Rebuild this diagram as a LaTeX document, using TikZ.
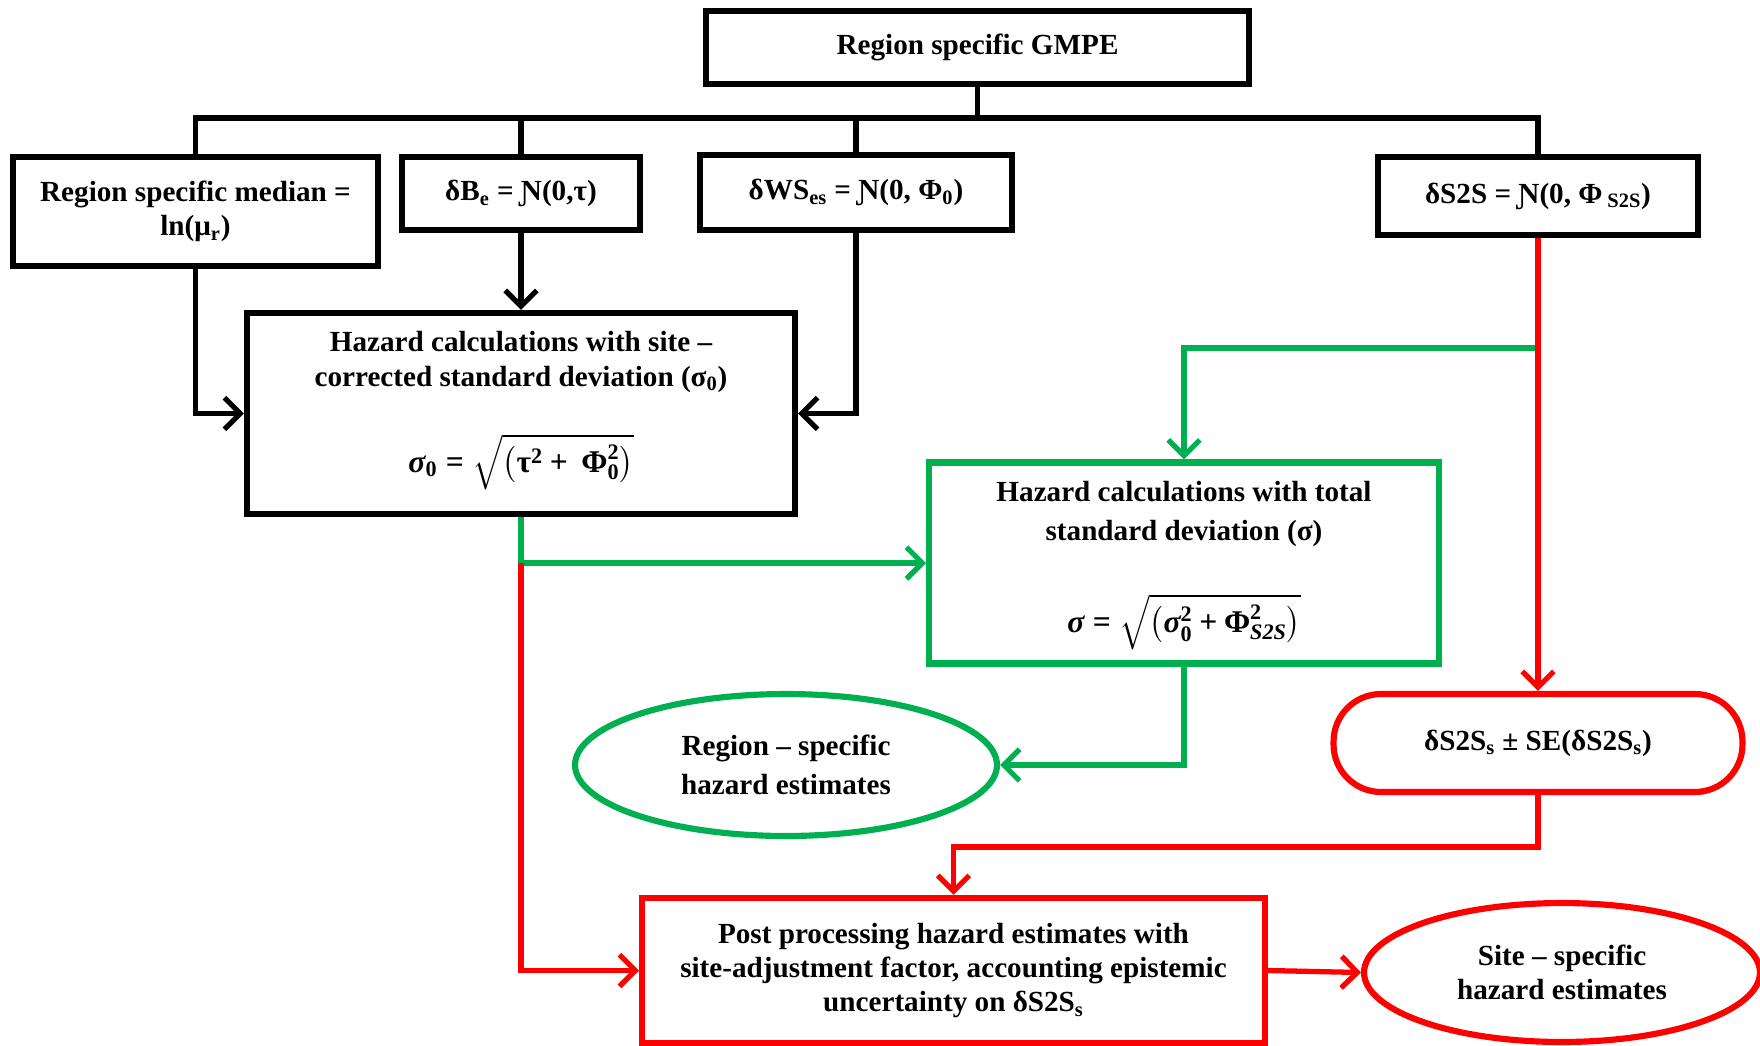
\documentclass[tikz,border=0pt]{standalone}
\usepackage{amsmath}
\usepackage{fontspec}
\setmainfont{Liberation Serif}
\usetikzlibrary{arrows.meta,positioning,shapes.geometric}
\definecolor{hzgreen}{RGB}{0,176,80}
\definecolor{hzred}{RGB}{255,0,0}

\begin{document}
\begin{tikzpicture}[
  x=0.02cm,y=-0.02cm,
  >={Straight Barb[length=9pt,width=18pt]},
  font=\fontsize{16.6}{19.5}\selectfont\bfseries,
  box/.style={draw,line width=3.5pt,align=center,inner sep=2pt},
  calcbox/.style={box,minimum height=4.02cm},
  boxtext/.style={align=center,inner sep=0pt},
  estim/.style={ellipse,draw,line width=3.5pt,align=center,inner sep=0pt},
  pill/.style={draw,line width=3.5pt,rounded corners=0.95cm,align=center,
    minimum width=8.18cm,minimum height=1.96cm},
  eqn/.style={inner sep=0pt,font=\fontsize{18}{21}\selectfont\bfseries},
  link/.style={line width=3pt}
]
  \useasboundingbox (0,0) rectangle (1760,1045);

  \node[box,minimum width=10.86cm,minimum height=1.46cm] (gmpe) at (977.5,47.5)
    {Region specific GMPE};
  \node[box,minimum width=7.3cm,minimum height=2.18cm] (median) at (195.5,211.5)
    {Region specific median =\\ln(μ\textsubscript{r})};
  \node[box,minimum width=4.76cm,minimum height=1.46cm] (dbe) at (521,193.5)
    {δB\textsubscript{e} = Ɲ(0,τ)};
  \node[box,minimum width=6.24cm,minimum height=1.5cm] (dws) at (856,192.5)
    {δWS\textsubscript{es} = Ɲ(0, Φ\textsubscript{0})};
  \node[box,minimum width=6.4cm,minimum height=1.56cm] (s2s) at (1538,196)
    {δS2S = Ɲ(0, Φ\,\textsubscript{S2S})};

  \node[calcbox,minimum width=10.96cm] (hazsite) at (521,413.5) {};
  \node[boxtext] (hazsitetxt) at (521,362) {Hazard calculations with site –\\corrected standard deviation (σ\textsubscript{0})};
  \node[eqn] (hazsiteeq) at (521,462)
    {$\text{\itshape σ}_{\text{0}} \mathrel{\text{=}} \sqrt{\left(\text{τ}^{\text{2}} \mathbin{\text{+}} \mkern4mu\text{Φ}^{\text{2}}_{\text{0}}\right)}$};

  \node[calcbox,draw=hzgreen,minimum width=10.2cm] (haztot) at (1184,563) {};
  \node[boxtext,font=\fontsize{16.6}{22}\selectfont\bfseries] (haztottxt) at (1184,514)
    {Hazard calculations with total\\standard deviation (σ)};
  \node[eqn] (haztoteq) at (1184,622)
    {$\text{\itshape σ} \mathrel{\text{=}} \sqrt{\left(\text{\itshape σ}^{\text{2}}_{\text{0}} \mathbin{\text{+}} \text{Φ}^{\text{2}}_{\text{\itshape S2S}}\right)}$};

  \node[estim,draw=hzgreen,minimum width=8.44cm,minimum height=2.84cm,
    font=\fontsize{16.6}{22}\selectfont\bfseries] (regest) at (786,765)
    {Region – specific\\hazard estimates};
  \node[pill,draw=hzred] (s2ss) at (1538,743)
    {δS2S\textsubscript{s} ± SE(δS2S\textsubscript{s})};
  \node[box,draw=hzred,minimum width=12.46cm,minimum height=2.9cm] (post) at (953.5,970.5)
    {Post processing hazard estimates with\\site-adjustment factor, accounting epistemic\\uncertainty on δS2S\textsubscript{s}};
  \node[estim,draw=hzred,minimum width=7.92cm,minimum height=2.78cm] (siteest) at (1562,972.5)
    {Site – specific\\hazard estimates};

  \coordinate (bus) at (977.5,118);
  \coordinate (j1) at (hazsite.south |- haztot.west);
  \coordinate (j2) at (1538,348);

  \draw[link] (gmpe.south) -- (bus);
  \draw[link] (median.north) |- (bus) -| (s2s.north);
  \draw[link] (dbe.north) -- (dbe.north |- bus);
  \draw[link] (dws.north) -- (dws.north |- bus);
  \draw[link,->] (median.south) |- (hazsite.west);
  \draw[link,->] (dbe.south) -- (hazsite.north);
  \draw[link,->] (dws.south) |- (hazsite.east);

  \draw[link,hzgreen,->] (hazsite.south) |- (haztot.west);
  \draw[link,hzgreen,->] (j2) -| (haztot.north);
  \draw[link,hzgreen,->] (haztot.south) |- (regest.east);

  \draw[link,hzred,->] (s2s.south) -- (s2ss.north);
  \draw[link,hzred,->] (j1) |- (post.west);
  \draw[link,hzred,->] (s2ss.south) -- ++(0,52) -| (post.north);
  \draw[link,hzred,->] (post.east) -- (siteest.west);
\end{tikzpicture}
\end{document}
